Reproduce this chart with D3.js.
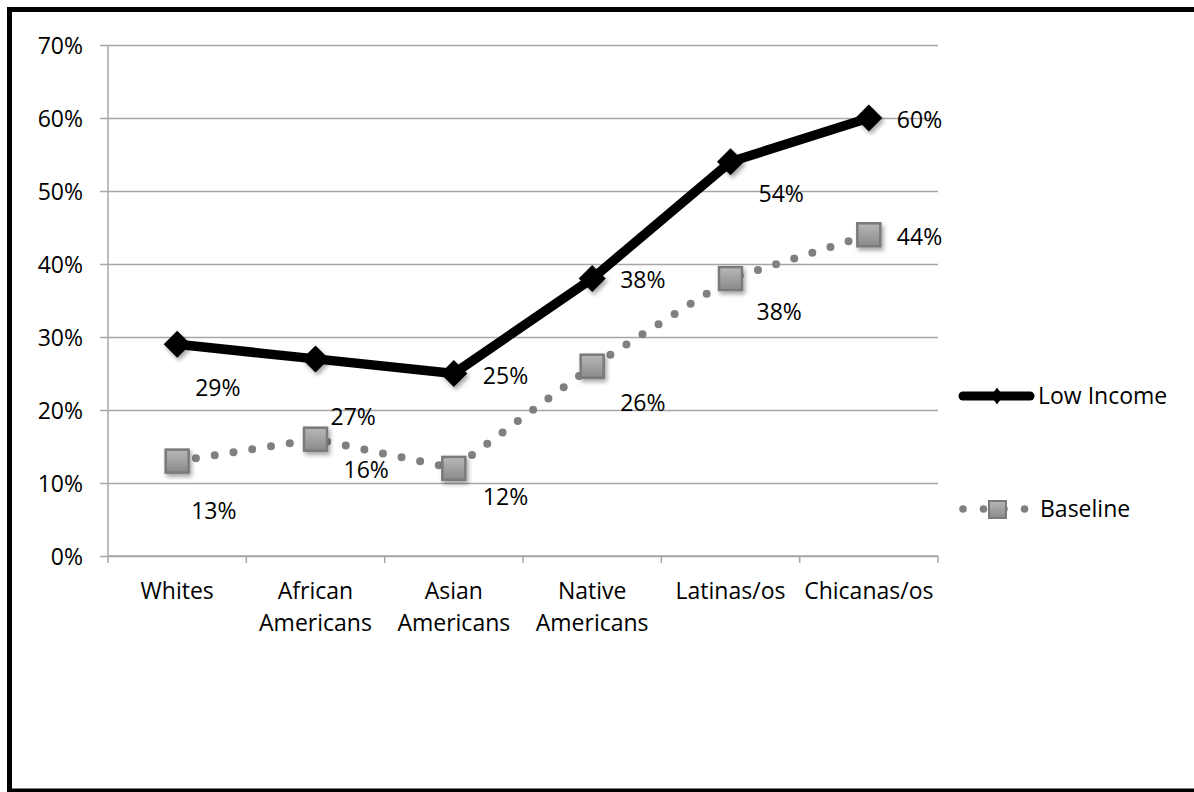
<!DOCTYPE html>
<html>
<head>
<meta charset="utf-8">
<script src="https://cdn.jsdelivr.net/npm/d3@7"></script>
<style>
  html, body { margin: 0; padding: 0; background: #fff; }
  svg { display: block; }
  text { font-family: "Open Sans", Lato, sans-serif; fill: #000; }
</style>
</head>
<body>
<svg id="chart" width="1194" height="792"></svg>
<script>
// Chart data
const categories = ["Whites", "African Americans", "Asian Americans", "Native Americans", "Latinas/os", "Chicanas/os"];
const lowIncome = [29, 27, 25, 38, 54, 60];
const baseline = [13, 16, 12, 26, 38, 44];
const seriesNames = ["Low Income", "Baseline"];
const yTickValues = [0, 10, 20, 30, 40, 50, 60, 70];

// Data label placement relative to each marker (pixels)
const lowLabelOffsets = [[18, 44], [15, 58], [29, 2], [28, 1], [28, 32], [28, 2]];
const baseLabelOffsets = [[14, 50], [28, 31], [29, 29], [28, 37], [26, 33], [28, 2]];

const svg = d3.select("#chart");
const fontSize = 23;

// Frame around the chart
svg.append("rect")
  .attr("x", 9.5).attr("y", 9.5)
  .attr("width", 1200).attr("height", 781.5)
  .attr("fill", "none").attr("stroke", "#000").attr("stroke-width", 5);

const defs = svg.append("defs");
const shadow = defs.append("filter").attr("id", "shadow")
  .attr("x", "-50%").attr("y", "-50%").attr("width", "200%").attr("height", "200%");
shadow.append("feDropShadow")
  .attr("dx", 2).attr("dy", 3).attr("stdDeviation", 2)
  .attr("flood-color", "#000").attr("flood-opacity", 0.35);

const grad = defs.append("linearGradient").attr("id", "sqFill")
  .attr("x1", 0).attr("y1", 0).attr("x2", 0).attr("y2", 1);
grad.append("stop").attr("offset", "0%").attr("stop-color", "#b8b8b8");
grad.append("stop").attr("offset", "100%").attr("stop-color", "#8a8a8a");

const plot = { left: 108, right: 938, top: 45, bottom: 556 };

const x = d3.scaleBand().domain(categories).range([plot.left, plot.right]);
const y = d3.scaleLinear().domain([0, 70]).range([plot.bottom, plot.top]);
const cx = c => x(c) + x.bandwidth() / 2;

// Horizontal gridlines with small ticks to the left
const yAxis = d3.axisLeft(y)
  .tickValues(yTickValues)
  .tickFormat(d => d + "%")
  .tickSize(-(plot.right - plot.left))
  .tickPadding(0);
const gy = svg.append("g").attr("transform", `translate(${plot.left},0)`).call(yAxis);
gy.select(".domain").remove();
gy.selectAll(".tick line")
  .attr("x1", -8)
  .attr("stroke", "#a6a6a6").attr("stroke-width", 1.5);
gy.selectAll(".tick text")
  .attr("x", -25)
  .attr("dy", "0.35em")
  .attr("font-size", fontSize)
  .attr("font-family", "'Open Sans', Lato, sans-serif")
  .attr("fill", "#000");

// Vertical axis line
svg.append("line")
  .attr("x1", plot.left).attr("x2", plot.left)
  .attr("y1", y(70)).attr("y2", y(0))
  .attr("stroke", "#a6a6a6").attr("stroke-width", 1.5);

// Category axis: tick marks at band boundaries, labels centred in bands
const gx = svg.append("g");
gx.append("line")
  .attr("x1", plot.left).attr("x2", plot.right)
  .attr("y1", y(0)).attr("y2", y(0))
  .attr("stroke", "#a6a6a6").attr("stroke-width", 1.5);
const boundaries = categories.map(c => x(c)).concat([x(categories[categories.length - 1]) + x.bandwidth()]);
gx.selectAll("line.tick").data(boundaries).join("line")
  .attr("class", "tick")
  .attr("x1", d => d).attr("x2", d => d)
  .attr("y1", y(0)).attr("y2", y(0) + 7)
  .attr("stroke", "#a6a6a6").attr("stroke-width", 1.5);
const catLabels = gx.selectAll("text").data(categories).join("text")
  .attr("text-anchor", "middle")
  .attr("font-size", fontSize)
  .attr("x", d => cx(d))
  .attr("y", 591);
catLabels.each(function(d) {
  const words = d.split(" ");
  const t = d3.select(this);
  words.forEach((w, i) => {
    t.append("tspan").attr("x", cx(d)).attr("y", 591 + i * 32).attr("dy", "0.35em").text(w);
  });
});

// Baseline series: dotted grey line with square markers
const baseLine = d3.line().x((d, i) => cx(categories[i])).y(d => y(d));
svg.append("path")
  .datum(baseline)
  .attr("d", baseLine)
  .attr("fill", "none")
  .attr("stroke", "#808080")
  .attr("stroke-width", 8)
  .attr("stroke-linecap", "round")
  .attr("stroke-dasharray", "0 19");

// Low income series: heavy black line with diamond markers
const lowLine = d3.line().x((d, i) => cx(categories[i])).y(d => y(d));
svg.append("path")
  .datum(lowIncome)
  .attr("d", lowLine)
  .attr("fill", "none")
  .attr("stroke", "#000")
  .attr("stroke-width", 9.5)
  .attr("stroke-linejoin", "round");

const diamond = (r) => `M0,${-r} L${r},0 L0,${r} L${-r},0 Z`;

svg.append("g").selectAll("path").data(lowIncome).join("path")
  .attr("d", diamond(13.5))
  .attr("transform", (d, i) => `translate(${cx(categories[i])},${y(d)})`)
  .attr("fill", "#000")
  .attr("filter", "url(#shadow)");

svg.append("g").selectAll("rect").data(baseline).join("rect")
  .attr("x", (d, i) => cx(categories[i]) - 11.5)
  .attr("y", d => y(d) - 11.5)
  .attr("width", 23).attr("height", 23)
  .attr("fill", "url(#sqFill)")
  .attr("stroke", "#7a7a7a").attr("stroke-width", 2.5)
  .attr("filter", "url(#shadow)");

// Data labels
svg.append("g").selectAll("text").data(lowIncome).join("text")
  .attr("x", (d, i) => cx(categories[i]) + lowLabelOffsets[i][0])
  .attr("y", (d, i) => y(d) + lowLabelOffsets[i][1])
  .attr("dy", "0.35em")
  .attr("font-size", fontSize)
  .text(d => d + "%");

svg.append("g").selectAll("text").data(baseline).join("text")
  .attr("x", (d, i) => cx(categories[i]) + baseLabelOffsets[i][0])
  .attr("y", (d, i) => y(d) + baseLabelOffsets[i][1])
  .attr("dy", "0.35em")
  .attr("font-size", fontSize)
  .text(d => d + "%");

// Legend
const legend = svg.append("g");
// Low Income entry
legend.append("line")
  .attr("x1", 963).attr("x2", 1030).attr("y1", 396).attr("y2", 396)
  .attr("stroke", "#000").attr("stroke-width", 9).attr("stroke-linecap", "round");
legend.append("path")
  .attr("d", "M0,-8.5 L6,0 L0,8.5 L-6,0 Z")
  .attr("transform", "translate(997,396)")
  .attr("fill", "#000");
legend.append("text")
  .attr("x", 1038).attr("y", 396).attr("dy", "0.35em")
  .attr("font-size", fontSize)
  .text(seriesNames[0]);
// Baseline entry
legend.append("line")
  .attr("x1", 963).attr("x2", 1030).attr("y1", 509).attr("y2", 509)
  .attr("stroke", "#808080").attr("stroke-width", 7.5)
  .attr("stroke-linecap", "round").attr("stroke-dasharray", "0 20.5");
legend.append("rect")
  .attr("x", 989).attr("y", 501).attr("width", 17).attr("height", 17)
  .attr("fill", "url(#sqFill)")
  .attr("stroke", "#7a7a7a").attr("stroke-width", 2);
legend.append("text")
  .attr("x", 1040).attr("y", 509).attr("dy", "0.35em")
  .attr("font-size", fontSize)
  .text(seriesNames[1]);
</script>
</body>
</html>
